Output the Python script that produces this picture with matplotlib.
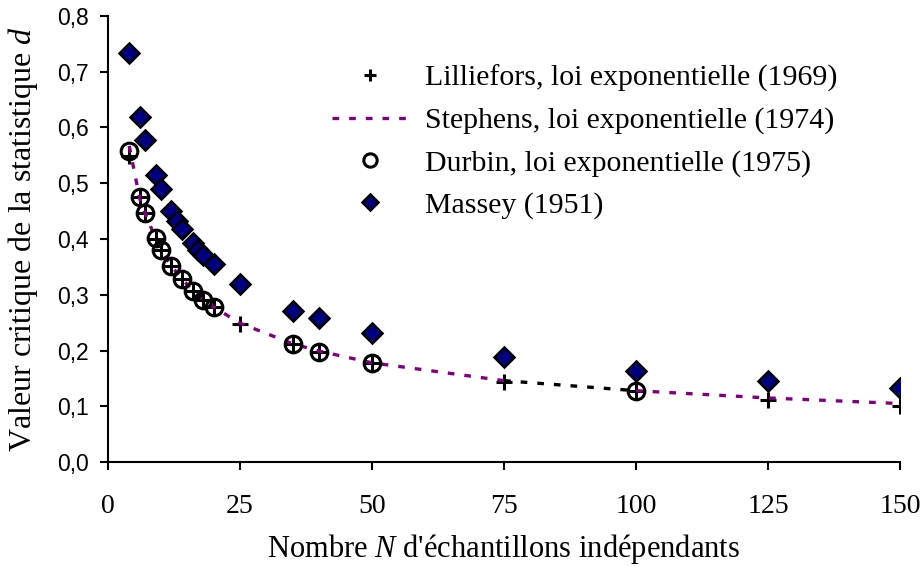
import numpy as np
import matplotlib
matplotlib.use("Agg")
import matplotlib.pyplot as plt
from matplotlib.ticker import FuncFormatter

plt.rcParams['font.family'] = 'Liberation Serif'
plt.rcParams['mathtext.fontset'] = 'custom'
plt.rcParams['mathtext.rm'] = 'Liberation Serif'
plt.rcParams['mathtext.it'] = 'Liberation Serif:italic'

# Lilliefors, loi exponentielle (1969)
n_lil = [4, 6, 7, 9, 10, 12, 14, 16, 18, 20, 25, 35, 40, 50, 75, 100, 125, 150]
d_lil = [0.549, 0.475, 0.447, 0.400, 0.380, 0.351, 0.329, 0.306, 0.291, 0.278,
         0.247, 0.211, 0.198, 0.178, 0.144, 0.127, 0.112, 0.101]

# Stephens, loi exponentielle (1974) - gap between 75 and 100
n_ste = [4, 6, 7, 9, 10, 12, 14, 16, 18, 20, 25, 35, 40, 50, 75, np.nan, 100, 125, 150]
d_ste = [0.567, 0.472, 0.446, 0.401, 0.381, 0.351, 0.329, 0.307, 0.291, 0.278,
         0.249, 0.212, 0.199, 0.178, 0.146, np.nan, 0.128, 0.115, 0.105]

# black dashed piece between 75 and 100
n_gap = [75, 100]
d_gap = [0.146, 0.128]

# Durbin, loi exponentielle (1975)
n_dur = [4, 6, 7, 9, 10, 12, 14, 16, 18, 20, 35, 40, 50, 100]
d_dur = [0.558, 0.476, 0.447, 0.401, 0.381, 0.351, 0.329, 0.306, 0.291, 0.278,
         0.211, 0.198, 0.178, 0.127]

# Massey (1951)
n_mas = [4, 6, 7, 9, 10, 12, 13, 14, 16, 17, 18, 20, 25, 35, 40, 50, 75, 100, 125, 150]
d_mas = [0.733, 0.619, 0.577, 0.514, 0.490, 0.450, 0.433, 0.418, 0.392, 0.381,
         0.371, 0.356, 0.320, 0.271, 0.258, 0.231, 0.189, 0.163, 0.146, 0.133]

fig = plt.figure(figsize=(9.24, 5.67), dpi=100)
ax = fig.add_axes([0.117, 0.185, 0.857, 0.787])

ax.plot(n_gap, d_gap, color='black', ls=(0, (2, 3)), lw=2.4)
ax.plot(n_lil, d_lil, ls='none', marker='+', ms=11, mew=2.2, color='black',
        label='Lilliefors, loi exponentielle (1969)')
ax.plot(n_ste, d_ste, color='#800080', ls=(0, (2, 3)), lw=2.4,
        label='Stephens, loi exponentielle (1974)')
ax.plot(n_dur, d_dur, ls='none', marker='o', ms=12, mew=2.2, mfc='none', mec='black',
        label='Durbin, loi exponentielle (1975)')
ax.plot(n_mas, d_mas, ls='none', marker='D', ms=10, mew=1.8, mfc='#000080', mec='black',
        label='Massey (1951)')

ax.set_xlim(0, 150)
ax.set_ylim(0, 0.8)
ax.set_xticks(np.arange(0, 151, 25))
ax.set_yticks(np.arange(0, 0.81, 0.1))
ax.yaxis.set_major_formatter(FuncFormatter(lambda v, p: f"{v:.1f}".replace('.', ',')))
ax.tick_params(width=1.5, length=6, direction='out')
ax.tick_params(axis='x', labelsize=20, pad=17)
ax.tick_params(axis='y', labelsize=16.5, pad=8)
for lbl in ax.get_yticklabels():
    lbl.set_fontfamily('Liberation Sans')
for s in ['top', 'right']:
    ax.spines[s].set_visible(False)
for s in ['left', 'bottom']:
    ax.spines[s].set_linewidth(1.5)

ax.set_xlabel("Nombre $N$ d'échantillons indépendants", fontsize=22, labelpad=9)
ax.set_ylabel("Valeur critique de la statistique $d$", fontsize=23)
ax.yaxis.set_label_coords(-0.086, 0.5)

leg = ax.legend(loc='upper left', bbox_to_anchor=(0.283, 0.89), frameon=False, fontsize=21.5,
                handlelength=2.5, handletextpad=0.6, labelspacing=0.5,
                borderpad=0, borderaxespad=0, markerscale=0.8)

fig.savefig('out.png', dpi=100)
